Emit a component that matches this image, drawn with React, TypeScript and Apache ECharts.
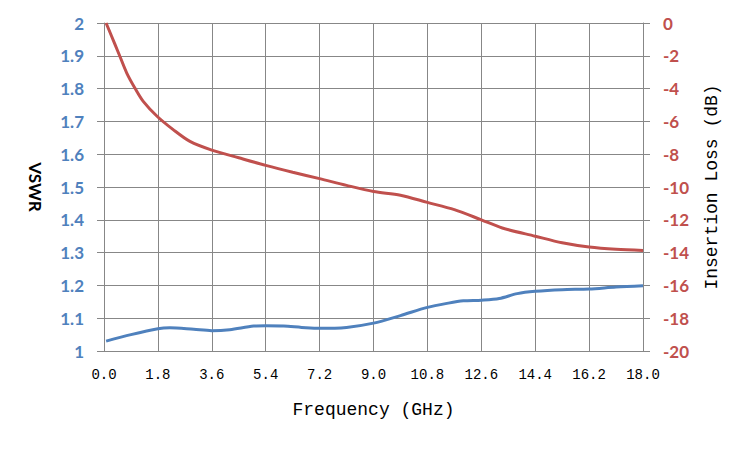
import React, { useEffect, useRef } from "react";
import * as echarts from "echarts";

const vswrFreq = [0.07, 0.9, 1.8, 2.2, 3.0, 3.6, 4.2, 5.0, 5.4, 6.0, 6.6, 7.2, 8.1, 9.0, 9.9, 10.8, 11.5, 12.0, 12.6, 13.2, 13.8, 14.4, 15.3, 16.2, 17.1, 18.0];
const vswrValues = [1.030, 1.050, 1.068, 1.071, 1.066, 1.062, 1.065, 1.076, 1.077, 1.076, 1.072, 1.069, 1.072, 1.085, 1.108, 1.133, 1.146, 1.153, 1.155, 1.160, 1.175, 1.182, 1.187, 1.189, 1.195, 1.199];

const lossFreq = [0.07, 0.37, 0.53, 0.76, 1.03, 1.31, 1.78, 2.31, 2.87, 3.6, 4.5, 5.4, 6.3, 7.2, 8.1, 9.0, 9.9, 10.8, 11.7, 12.6, 13.3, 14.4, 15.3, 16.2, 17.1, 18.0];
const lossValues = [0, -1.32, -2.03, -3.05, -3.96, -4.78, -5.7, -6.5, -7.22, -7.75, -8.22, -8.68, -9.1, -9.49, -9.9, -10.27, -10.5, -10.94, -11.38, -12.0, -12.5, -13.0, -13.4, -13.66, -13.8, -13.87];

const GRAY = "#878787";
const BLUE = "#4F81BD";
const RED = "#C0504D";

export default function App() {
  const ref = useRef<HTMLDivElement>(null);
  useEffect(() => {
    if (!ref.current) return;
    const chart = echarts.init(ref.current, null, { renderer: "svg" });
    chart.setOption({
      animation: false,
      backgroundColor: "#ffffff",
      grid: { left: 104, right: 107, top: 23, bottom: 99, containLabel: false },
      xAxis: {
        type: "value",
        min: 0,
        max: 18,
        interval: 1.8,
        name: "Frequency (GHz)",
        nameLocation: "middle",
        nameGap: 50,
        nameTextStyle: { fontFamily: "Liberation Mono", fontSize: 18, color: "#000" },
        axisLine: { show: true, lineStyle: { color: GRAY, width: 1 } },
        axisTick: { show: true, length: 7, lineStyle: { color: GRAY } },
        splitLine: { show: true, lineStyle: { color: GRAY, width: 1 } },
        axisLabel: {
          margin: 17,
          fontFamily: "Liberation Mono",
          fontSize: 14,
          color: "#000",
          formatter: (v: number) => v.toFixed(1),
        },
      },
      yAxis: [
        {
          type: "value",
          min: 1,
          max: 2,
          interval: 0.1,
          position: "left",
          name: "VSWR",
          nameLocation: "middle",
          nameRotate: -90,
          nameGap: 60,
          nameTextStyle: { fontFamily: "Lato", fontWeight: "bold", fontSize: 17, color: "#000" },
          axisLine: { show: true, lineStyle: { color: GRAY, width: 1 } },
          axisTick: { show: true, length: 7, lineStyle: { color: GRAY } },
          splitLine: { show: true, lineStyle: { color: GRAY, width: 1 } },
          axisLabel: {
            margin: 20,
            fontFamily: "Lato",
            fontWeight: "bold",
            fontSize: 17,
            color: BLUE,
          },
        },
        {
          type: "value",
          min: -20,
          max: 0,
          interval: 2,
          position: "right",
          name: "Insertion Loss (dB)",
          nameLocation: "middle",
          nameRotate: 90,
          nameGap: 60,
          nameTextStyle: { fontFamily: "Liberation Mono", fontSize: 18, color: "#000" },
          axisLine: { show: true, lineStyle: { color: GRAY, width: 1 } },
          axisTick: { show: true, length: 7, lineStyle: { color: GRAY } },
          splitLine: { show: false },
          axisLabel: {
            margin: 20,
            fontFamily: "Lato",
            fontWeight: "bold",
            fontSize: 17,
            color: RED,
          },
        },
      ],
      series: [
        {
          name: "VSWR",
          type: "line",
          yAxisIndex: 0,
          smooth: 0.3,
          showSymbol: false,
          lineStyle: { color: BLUE, width: 3 },
          itemStyle: { color: BLUE },
          data: vswrFreq.map((f, i) => [f, vswrValues[i]]),
        },
        {
          name: "Insertion Loss",
          type: "line",
          yAxisIndex: 1,
          smooth: 0.3,
          showSymbol: false,
          lineStyle: { color: RED, width: 3 },
          itemStyle: { color: RED },
          data: lossFreq.map((f, i) => [f, lossValues[i]]),
        },
      ],
    });
    return () => chart.dispose();
  }, []);
  return <div ref={ref} style={{ width: 750, height: 450, position: "absolute", left: 0, top: 0 }} />;
}
